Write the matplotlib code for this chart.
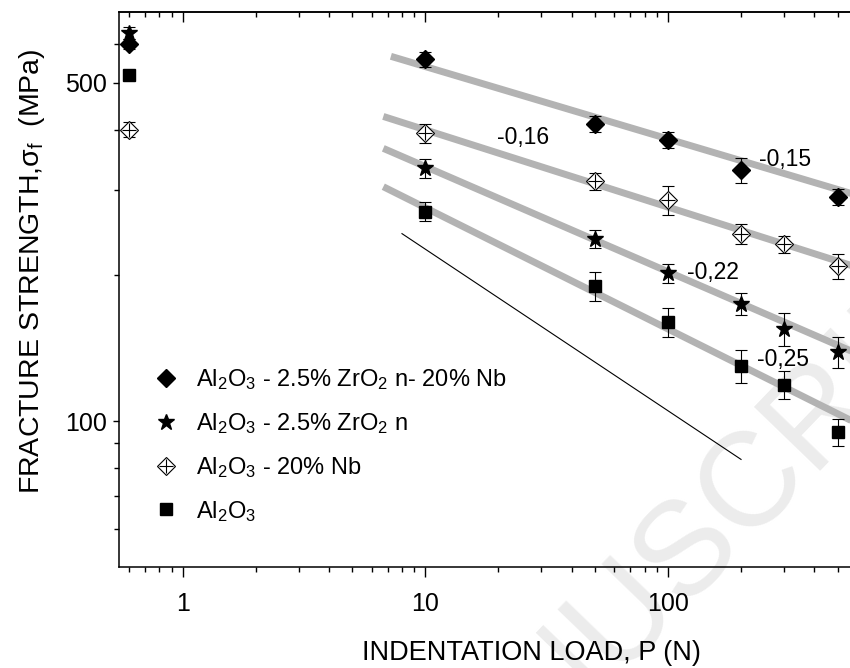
import matplotlib
matplotlib.use("Agg")
import matplotlib.pyplot as plt
from matplotlib.ticker import FixedLocator, NullFormatter, FixedFormatter
from matplotlib.legend_handler import HandlerTuple

plt.rcParams['font.family'] = ['Liberation Sans', 'DejaVu Sans']
plt.rcParams['mathtext.fontset'] = 'custom'
plt.rcParams['mathtext.rm'] = 'Liberation Sans'
plt.rcParams['mathtext.it'] = 'Liberation Sans:italic'
plt.rcParams['mathtext.default'] = 'regular'

# ---------------- data ---------------- #
# Al2O3 - 2.5% ZrO2 n - 20% Nb (filled diamond)
load_zn_nb = [0.6, 10, 50, 100, 200, 500]
sig_zn_nb = [602, 560, 411, 381, 330, 290]
err_zn_nb = [14, 20, 15, 14, 20, 11]

# Al2O3 - 2.5% ZrO2 n (star)
load_zn = [0.6, 10, 50, 100, 200, 300, 500]
sig_zn = [634, 333, 238, 202, 175, 155, 139]
err_zn = [17, 15, 10, 9, 9, 12, 10]

# Al2O3 - 20% Nb (open diamond with cross)
load_nb = [0.6, 10, 50, 100, 200, 300, 500]
sig_nb = [400, 393, 313, 286, 244, 232, 209]
err_nb = [14, 18, 13, 20, 12, 9, 12]

# Al2O3 (square)
load_al = [0.6, 10, 50, 100, 200, 300, 500]
sig_al = [519, 271, 190, 160, 130, 119, 95]
err_al = [10, 12, 13, 11, 10, 8, 6]

# fitted power-law lines (end points) and their slopes
fit_x = [[7.2, 600], [6.7, 600], [6.7, 600], [6.7, 600]]
fit_y = [[567, 293], [426, 208], [366, 138], [305, 99]]
slope_text = ["-0,15", "-0,16", "-0,22", "-0,25"]
slope_pos = [(303, 347), (25.2, 385), (153, 203), (298, 134)]

# reference line of slope -1/3
ref_x = [8, 200]
ref_y = [244, 83.4]

labels = [r"Al$_2$O$_3$ - 2.5% ZrO$_2$ n- 20% Nb",
          r"Al$_2$O$_3$ - 2.5% ZrO$_2$ n",
          r"Al$_2$O$_3$ - 20% Nb",
          r"Al$_2$O$_3$"]

# ---------------- figure ---------------- #
fig = plt.figure(figsize=(8.5, 6.68), dpi=100)
ax = fig.add_axes([119 / 850, 101 / 668, 736 / 850, 555 / 668])
ax.set_xscale('log')
ax.set_yscale('log')
ax.set_xlim(0.545, 590)
ax.set_ylim(50, 700)

# watermark
ax.text(690 / 850, 1 - 545 / 668, "MANUSCRIPT", transform=fig.transFigure,
        rotation=46, fontsize=96, color='#ececec', ha='center', va='center',
        rotation_mode='anchor', zorder=0, clip_on=False)

# fit lines
for fx, fy in zip(fit_x, fit_y):
    ax.plot(fx, fy, color='#b3b3b3', lw=5, solid_capstyle='butt', zorder=2)
ax.plot(ref_x, ref_y, color='black', lw=0.8, zorder=2)

for t, (px, py) in zip(slope_text, slope_pos):
    ax.text(px, py, t, fontsize=16.5, ha='center', va='center', zorder=3)

eb = dict(fmt='none', ecolor='black', elinewidth=0.8, capsize=4, capthick=0.8, zorder=3)
ax.errorbar(load_zn_nb, sig_zn_nb, yerr=err_zn_nb, **eb)
ax.errorbar(load_zn, sig_zn, yerr=err_zn, **eb)
ax.errorbar(load_nb, sig_nb, yerr=err_nb, **eb)
ax.errorbar(load_al, sig_al, yerr=err_al, **eb)

h1, = ax.plot(load_zn_nb, sig_zn_nb, 'D', color='black', ms=9, ls='none', zorder=4)
h2, = ax.plot(load_zn, sig_zn, '*', color='black', ms=12, ls='none', zorder=4)
h3a, = ax.plot(load_nb, sig_nb, 'D', mfc='white', mec='black', mew=0.8, ms=9, ls='none', zorder=4)
h3b, = ax.plot(load_nb, sig_nb, '+', color='black', mew=0.8, ms=10, ls='none', zorder=5)
h4, = ax.plot(load_al, sig_al, 's', color='black', ms=9, ls='none', zorder=4)

leg = ax.legend([h1, h2, (h3a, h3b), h4], labels, loc='upper left',
                bbox_to_anchor=(0.016, 0.398), frameon=False, fontsize=17,
                handlelength=1.2, handletextpad=0.68, labelspacing=0.8,
                handler_map={tuple: HandlerTuple(ndivide=1, pad=0)})

# ticks
ax.xaxis.set_major_locator(FixedLocator([1, 10, 100]))
ax.xaxis.set_major_formatter(FixedFormatter(['1', '10', '100']))
ax.xaxis.set_minor_locator(FixedLocator([0.6, 0.7, 0.8, 0.9] +
                                        [k for k in range(2, 10)] +
                                        [k * 10 for k in range(2, 10)] +
                                        [k * 100 for k in range(2, 6)]))
ax.xaxis.set_minor_formatter(NullFormatter())
ax.yaxis.set_major_locator(FixedLocator([100, 500]))
ax.yaxis.set_major_formatter(FixedFormatter(['100', '500']))
ax.yaxis.set_minor_locator(FixedLocator([60, 70, 80, 90, 200, 300, 400, 600]))
ax.yaxis.set_minor_formatter(NullFormatter())

ax.tick_params(axis='x', which='both', direction='out', top=False, labelsize=18, pad=11, width=1)
ax.tick_params(axis='x', which='major', length=7)
ax.tick_params(axis='x', which='minor', length=3.5)
ax.tick_params(axis='y', which='both', direction='out', right=False, labelsize=18, pad=4, width=1)
ax.tick_params(axis='y', which='major', length=4.5)
ax.tick_params(axis='y', which='minor', length=3.5)

# inward ticks on the top edge
top = ax.secondary_xaxis('top')
top.xaxis.set_major_locator(FixedLocator([1, 10, 100]))
top.xaxis.set_minor_locator(ax.xaxis.get_minor_locator())
top.xaxis.set_major_formatter(NullFormatter())
top.xaxis.set_minor_formatter(NullFormatter())
top.tick_params(which='both', direction='in', width=1)
top.tick_params(which='major', length=7)
top.tick_params(which='minor', length=3.5)

for s in ax.spines.values():
    s.set_linewidth(1.1)
top.spines['top'].set_linewidth(1.1)

fig.text(531 / 850, 1 - 653 / 668, "INDENTATION LOAD, P (N)", fontsize=19.5,
         ha='center', va='center')
fig.text(32 / 850, 1 - 271 / 668, r"FRACTURE STRENGTH,σ$_{\rm f}$  (MPa)",
         fontsize=20.5, rotation=90, ha='center', va='center')

fig.savefig("out.png", dpi=100)
